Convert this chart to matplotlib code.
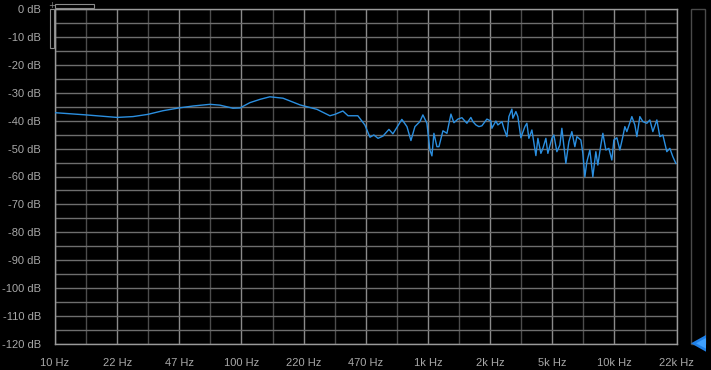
import matplotlib.pyplot as plt
import numpy as np
from matplotlib.patches import Rectangle, Polygon
from matplotlib.ticker import NullFormatter

# Spectrum readout (frequency in Hz, level in dB)
freq_hz = [
    10, 14.7, 21.5, 26.2, 31.5, 37.9, 46.2, 55.0, 67.8, 76.7, 90.0, 98.2,
    111, 126, 142, 167, 206, 254, 298, 317, 350, 373, 421, 459, 489, 513,
    540, 574, 618, 649, 725, 772, 811, 852, 906, 940, 988, 1025, 1051, 1077,
    1118, 1146, 1204, 1265, 1329, 1379, 1448, 1522, 1619, 1700, 1743, 1809,
    1877, 1948, 2072, 2177, 2204, 2315, 2374, 2494, 2555, 2653, 2719, 2821,
    2856, 2964, 3037, 3152, 3312, 3395, 3480, 3612, 3795, 3890, 4036, 4137,
    4293, 4400, 4624, 4738, 4918, 5103, 5230, 5495, 5703, 5917, 6141, 6295,
    6613, 6778, 6948, 7122, 7390, 7668, 7957, 8155, 8465, 8678, 9005, 9343,
    9696, 9940, 10314, 10703, 11106, 11385, 11670, 12415, 12882, 13206,
    13702, 14219, 14939, 15502, 16089, 16902, 17539, 18201, 19119, 19843,
    20593, 21370,
]
level_db = [
    -37.1, -37.9, -38.8, -38.5, -37.7, -36.4, -35.4, -34.7, -34.1, -34.4, -35.5, -35.4,
    -33.5, -32.3, -31.4, -31.9, -34.3, -35.9, -38.2, -37.7, -36.5, -38.2, -38.2, -41.5, -45.9, -45.1,
    -46.3, -45.5, -43.1, -44.7, -39.5, -42.1, -47.1, -42.1, -40.3, -37.9, -40.9, -50.5, -52.6, -44.5,
    -49.3, -49.3, -43.6, -44.5, -37.6, -40.7, -39.4, -38.9, -40.9, -38.8, -40.3, -41.5,
    -42.1, -41.8, -39.4, -40.1, -42.7, -40.1, -41.5, -40.3, -42.7, -45.7, -38.5, -35.8,
    -39.1, -36.7, -38.5, -46.1, -42.1, -40.9, -46.3, -43.3, -52.5, -46.3, -51.7, -49.9,
    -46.3, -51.7, -46.3, -45.1, -51.1, -48.7, -42.7, -55.3, -47.5, -43.9, -49.3, -45.7,
    -46.9, -51.7, -60.1, -54.7, -50.5, -60.1, -51.1, -55.9, -48.7, -44.5, -50.5, -49.9,
    -54.1, -46.9, -46.1, -50.5, -45.7, -42.1, -43.9, -38.5, -41.5, -45.7,
    -38.5, -40.3, -40.9, -39.7, -43.9, -39.7, -45.7, -45.1, -51.1, -49.9,
    -52.9, -55.3,
]

x_labels = ["10 Hz", "22 Hz", "47 Hz", "100 Hz", "220 Hz", "470 Hz",
            "1k Hz", "2k Hz", "5k Hz", "10k Hz", "22k Hz"]
y_ticks = list(range(0, -130, -10))
y_labels = [f"{v} dB" for v in y_ticks]

W, H = 711, 370
bg = "#000000"
txt = "#a8a8a8"

fig = plt.figure(figsize=(W / 100, H / 100), dpi=100)
fig.set_facecolor(bg)
ax = fig.add_axes([55 / W, 1 - 343.7 / H, 621.5 / W, 334.4 / H])
ax.set_facecolor(bg)

# log axis split into 20 steps of 1/6 decade
grid_pos = 10 ** (1 + np.arange(21) / 6)
ax.set_xscale("log")
ax.set_xlim(grid_pos[0], grid_pos[-1])
ax.set_ylim(-120, 0)

ax.set_xticks(grid_pos[::2])
ax.set_xticklabels(x_labels)
ax.set_xticks(grid_pos[1::2], minor=True)
ax.xaxis.set_minor_formatter(NullFormatter())
ax.set_yticks(y_ticks)
ax.set_yticklabels(y_labels)
ax.set_yticks(np.arange(-115, 0, 10), minor=True)
ax.yaxis.set_minor_formatter(NullFormatter())

ax.tick_params(which="both", length=0, colors=txt, labelsize=8)
ax.tick_params(axis="y", pad=10)
ax.tick_params(axis="x", pad=10)
for lbl in ax.get_xticklabels() + ax.get_yticklabels():
    lbl.set_fontfamily("Liberation Sans")

ax.grid(True, which="major", axis="x", color="#8a8a8a", linewidth=1)
ax.grid(True, which="minor", axis="x", color="#4c4c4c", linewidth=1)
ax.grid(True, which="both", axis="y", color="#6e6e6e", linewidth=1)
ax.set_axisbelow(True)
for sp in ax.spines.values():
    sp.set_color("#9a9a9a")
    sp.set_linewidth(1)

ax.plot(freq_hz, level_db, color="#2b8fe0", linewidth=1.0, zorder=3)

def px(x, y):
    return (x / W, 1 - y / H)

# little widgets at top-left corner
fig.add_artist(Rectangle(px(55, 8.3), 39.3 / W, 4 / H, transform=fig.transFigure,
                         fill=False, edgecolor="#8a8a8a", linewidth=0.8))
fig.add_artist(Rectangle(px(50.3, 48.3), 4 / W, 39 / H, transform=fig.transFigure,
                         fill=False, edgecolor="#8a8a8a", linewidth=0.8))
fig.text(51.7 / W, 1 - 5.7 / H, "+", color="#8a8a8a", fontsize=6,
         ha="center", va="center")

# level meter on the right
fig.add_artist(Rectangle(px(691, 344), 14 / W, 334.7 / H, transform=fig.transFigure,
                         fill=False, edgecolor="#4a4a4a", linewidth=1))
fig.add_artist(Polygon([px(691, 343.3), px(706, 335), px(706, 351.7)],
                       closed=True, transform=fig.transFigure,
                       facecolor="#1f7fe6", edgecolor="none"))
fig.add_artist(Polygon([px(696, 343.3), px(706, 338), px(706, 348.6)],
                       closed=True, transform=fig.transFigure,
                       facecolor="#3fa0ff", edgecolor="none"))

fig.savefig("out.png", dpi=100, facecolor=bg)
